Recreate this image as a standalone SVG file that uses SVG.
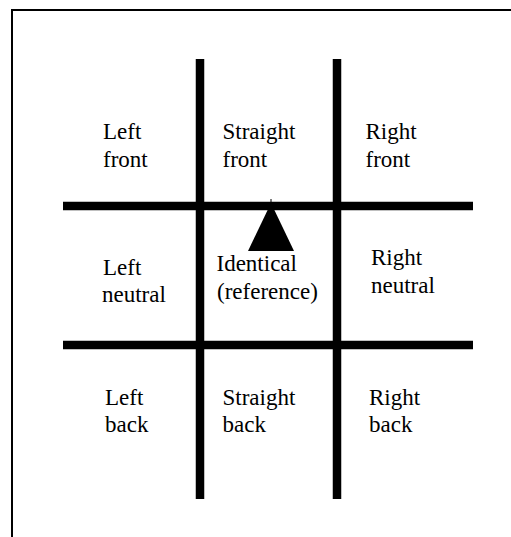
<svg xmlns="http://www.w3.org/2000/svg" width="511" height="537" viewBox="0 0 511 537">
<style>
.t{font-family:"Liberation Serif","Times New Roman",serif;font-size:23px;fill:#000}
.g{stroke:#000;stroke-width:8.5;fill:none}
.b{stroke:#000;stroke-width:2;fill:none}
</style>
<rect width="511" height="537" fill="#fff"/>
<g id="frame">
<path class="b" d="M12 537 V10 H511"/>
</g>
<g id="connectors">
<line class="g" x1="200" y1="59" x2="200" y2="499"/>
<line class="g" x1="337" y1="59" x2="337" y2="499"/>
<line class="g" x1="63" y1="206" x2="473" y2="206"/>
<line class="g" x1="63" y1="345" x2="473" y2="345"/>
<line x1="271" y1="199" x2="271" y2="206" stroke="#000" stroke-width="1"/>
</g>
<g id="marker-triangle">
<polygon points="271,203 248,251 294,251" fill="#000"/>
</g>
<g id="left-front"><text class="t" x="103" y="139">Left</text><text class="t" x="103" y="167">front</text></g>
<g id="straight-front"><text class="t" x="222.5" y="139">Straight</text><text class="t" x="222.5" y="167">front</text></g>
<g id="right-front"><text class="t" x="365.5" y="139">Right</text><text class="t" x="365.5" y="167">front</text></g>
<g id="left-neutral"><text class="t" x="103" y="275">Left</text><text class="t" x="102" y="302">neutral</text></g>
<g id="identical"><text class="t" x="216.5" y="271">Identical</text><text class="t" x="217" y="299">(reference)</text></g>
<g id="right-neutral"><text class="t" x="371" y="265">Right</text><text class="t" x="371" y="293">neutral</text></g>
<g id="left-back"><text class="t" x="105" y="405">Left</text><text class="t" x="105" y="432">back</text></g>
<g id="straight-back"><text class="t" x="222.5" y="405">Straight</text><text class="t" x="222.5" y="432">back</text></g>
<g id="right-back"><text class="t" x="369" y="405">Right</text><text class="t" x="369" y="432">back</text></g>
</svg>
